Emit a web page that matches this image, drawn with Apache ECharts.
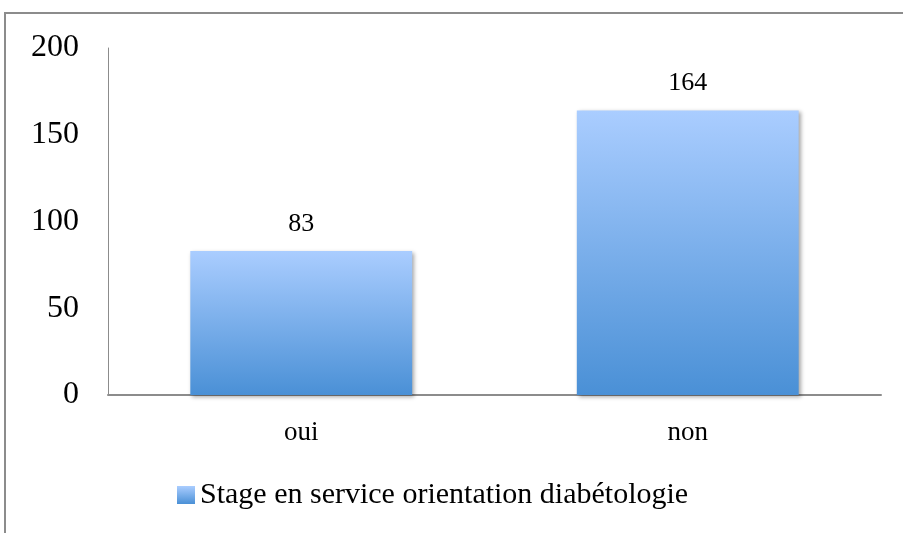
<!DOCTYPE html>
<html>
<head>
<meta charset="utf-8">
<script src="https://cdn.jsdelivr.net/npm/echarts@6/dist/echarts.min.js"></script>
<style>
  html, body { margin: 0; padding: 0; background: #fff; }
  #main { width: 903px; height: 533px; }
</style>
</head>
<body>
<div id="main"></div>
<script>
  var categories = ['oui', 'non'];
  var values = [83, 164];
  var seriesName = 'Stage en service orientation diabétologie';

  var chart = echarts.init(document.getElementById('main'));
  var serif = '"Liberation Serif", "DejaVu Serif", serif';

  var option = {
    animation: false,
    graphic: [{
      type: 'rect',
      shape: { x: 5, y: 13, width: 1000, height: 600 },
      style: { fill: 'none', stroke: '#8c8c8c', lineWidth: 2 },
      silent: true
    }],
    grid: { left: 108, right: 22, top: 48, bottom: 138 },
    legend: {
      data: [seriesName],
      left: 172, top: 475,
      itemWidth: 18, itemHeight: 18, itemGap: 4,
      icon: 'rect',
      textStyle: { fontFamily: serif, fontSize: 30, color: '#000' }
    },
    xAxis: {
      type: 'category',
      data: categories,
      axisLine: { lineStyle: { color: '#8c8c8c', width: 2 } },
      axisTick: { show: false },
      axisLabel: { fontFamily: serif, fontSize: 27, color: '#000', margin: 24 }
    },
    yAxis: {
      type: 'value',
      min: 0, max: 200, interval: 50,
      axisLine: { show: true, lineStyle: { color: '#8c8c8c', width: 1 } },
      axisTick: { show: false },
      splitLine: { show: false },
      axisLabel: { fontFamily: serif, fontSize: 32, color: '#000', margin: 29 }
    },
    series: [{
      name: seriesName,
      type: 'bar',
      data: values,
      barWidth: '57.4%',
      itemStyle: {
        color: new echarts.graphic.LinearGradient(0, 0, 0, 1, [
          { offset: 0, color: '#aacdff' },
          { offset: 1, color: '#4a90d6' }
        ]),
        shadowColor: 'rgba(0,0,0,0.35)',
        shadowBlur: 4,
        shadowOffsetX: 2,
        shadowOffsetY: 2
      },
      label: {
        show: true, position: 'top', distance: 14,
        fontFamily: serif, fontSize: 26, color: '#000'
      }
    }]
  };

  chart.setOption(option);
</script>
</body>
</html>
